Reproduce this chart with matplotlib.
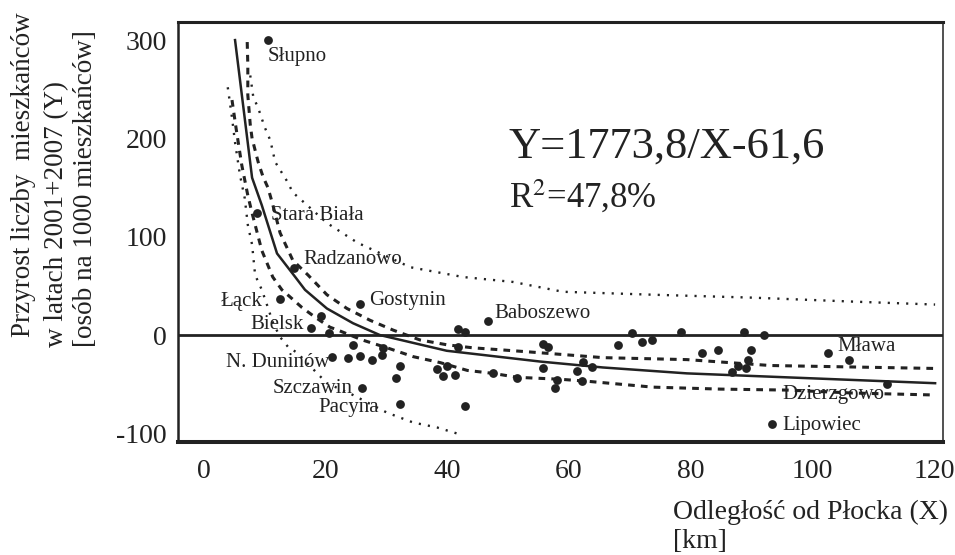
import matplotlib
matplotlib.use("Agg")
import matplotlib.pyplot as plt

plt.rcParams['font.family'] = ['Liberation Serif', 'DejaVu Serif']
plt.rcParams['mathtext.fontset'] = 'stix'
plt.rcParams['axes.unicode_minus'] = False

# miejscowosci: odleglosc od Plocka (km) i przyrost (os./1000)
dist_km = [10.5, 8.7, 14.8, 12.5, 19.2, 17.6, 20.6, 25.7, 24.5, 29.4,
           21.1, 23.7, 25.7, 27.6, 29.3, 32.2, 31.6, 26.0, 32.2, 42.9,
           41.8, 42.9, 46.7, 41.8, 38.3, 39.3, 40.0, 41.3, 47.5, 51.5,
           55.8, 56.6, 55.8, 58.1, 57.7, 62.2, 62.3, 61.3, 63.8, 68.1,
           70.4, 72.0, 73.7, 78.5, 81.9, 84.5, 88.7, 92.0, 90.0, 89.5,
           87.8, 89.1, 86.8, 93.4, 102.6, 106.1, 112.3]
growth = [300, 124, 68, 37, 19, 7, 2, 32, -10, -13,
          -22, -23, -21, -25, -20, -31, -44, -54, -70, -72,
          6, 3, 14, -12, -35, -42, -31, -41, -39, -44,
          -9, -12, -34, -46, -54, -47, -27, -37, -33, -10,
          2, -7, -5, 3, -18, -15, 3, 0, -15, -25,
          -32, -34, -38, -90, -18, -25, -50]

# krzywa dopasowania
fit_x = [5.1, 7.9, 9.5, 12.0, 15.0, 16.6, 20.2, 24.5, 28.9, 34.4, 39.9, 55.3, 65.6, 79.4, 120.2]
fit_y = [300, 160, 132, 83, 59, 46, 27, 12, 0, -8, -16, -27, -33, -39, -49]

# przedzial ufnosci (kreskowane)
conf_up_x = [7.1, 7.2, 7.2, 7.6, 7.9, 8.9, 9.7, 10.5, 11.2, 12.5, 14.6, 17.1, 20.2,
             23.5, 27.3, 31.1, 35.5, 40.0, 44.2, 48.7, 53.1, 65.6, 79.4, 93.1, 120.2]
conf_up_y = [298, 275, 244, 214, 200, 176, 161, 150, 135, 104, 76, 61, 41,
             27, 15, 5, -5, -10, -13, -15, -17, -23, -25, -31, -34]
conf_lo_x = [4.6, 5.3, 6.2, 7.2, 7.9, 9.5, 11.3, 12.8, 14.1, 16.1, 18.3, 20.7, 22.0, 26.0,
             30.1, 34.4, 38.8, 43.3, 47.5, 51.5, 58.6, 63.0, 73.8, 84.9, 95.9, 106.7, 120.2]
conf_lo_y = [239, 209, 173, 142, 124, 86, 59, 46, 39, 28, 18, 8, 5, -5,
             -13, -22, -28, -36, -39, -43, -45, -47, -53, -55, -56, -59, -61]

# przedzial prognozy (kropkowane)
pred_up_x = [7.6, 8.1, 8.9, 10.0, 10.9, 11.7, 13.7, 14.6, 16.6, 20.2, 25.2, 33.9, 42.6,
             50.8, 59.0, 73.8, 90.3, 106.7, 120.2]
pred_up_y = [264, 242, 231, 211, 198, 176, 156, 145, 134, 114, 94, 69, 59,
             54, 44, 41, 38, 34, 31]
pred_lo_x = [3.9, 4.6, 5.1, 5.9, 6.7, 7.2, 7.9, 8.4, 9.5, 10.5, 11.3, 12.5, 13.8, 15.3,
             20.2, 24.5, 30.1, 34.4, 38.3, 42.6]
pred_lo_y = [252, 221, 196, 163, 139, 112, 92, 61, 46, 28, 13, -2, -12, -18,
             -49, -61, -79, -89, -94, -102]

names = ['Słupno', 'Stara Biała', 'Radzanowo', 'Łąck', 'Bielsk', 'N. Duninów',
         'Szczawin', 'Pacyna', 'Gostynin', 'Baboszewo', 'Mława', 'Dzierzgowo', 'Lipowiec']
name_x = [10.5, 11.0, 16.4, 2.8, 7.7, 3.6, 11.3, 18.8, 27.1, 47.7, 104.1, 95.1, 95.1]
name_y = [283, 122, 77, 34, 11, -28, -54, -74, 35, 22, -12, -60, -92]

ink = '#222222'

fig = plt.figure(figsize=(9.55, 5.55), dpi=100)
ax = fig.add_axes([178 / 955, 1 - 442 / 555, (943 - 178) / 955, (442 - 21.7) / 555])

ax.axhline(0, color=ink, lw=2.0, zorder=1)
ax.plot(fit_x, fit_y, color=ink, lw=1.8, zorder=3)
ax.plot(conf_up_x, conf_up_y, color=ink, lw=2.2, dashes=(2.2, 2.0), zorder=2)
ax.plot(conf_lo_x, conf_lo_y, color=ink, lw=2.2, dashes=(2.2, 2.0), zorder=2)
ax.plot(pred_up_x, pred_up_y, color=ink, lw=1.7, dashes=(0.9, 3.0), zorder=2)
ax.plot(pred_lo_x, pred_lo_y, color=ink, lw=1.7, dashes=(0.9, 3.0), zorder=2)
ax.scatter(dist_km, growth, s=40, color=ink, zorder=4, linewidths=0)

for n, x, y in zip(names, name_x, name_y):
    ax.text(x, y, n, fontsize=15, ha='left', va='center', color=ink)

ax.text(50.1, 181, 'Y=1773,8/X-61,6', fontsize=32, ha='left', va='baseline', color=ink)
ax.text(50.1, 129, 'R$^{\\mathrm{2}}$=47,8%', fontsize=25, ha='left', va='baseline', color=ink)

ax.set_xlim(-4.28, 121.5)
ax.set_ylim(-108.8, 318.7)
ax.set_xticks([0, 20, 40, 60, 80, 100, 120])
ax.set_yticks([-100, 0, 100, 200, 300])
ax.tick_params(axis='both', length=0, labelsize=20, colors=ink)
ax.tick_params(axis='x', pad=12)
ax.tick_params(axis='y', pad=8)

for side, w in [('top', 2.2), ('bottom', 2.9), ('left', 1.8), ('right', 1.1)]:
    ax.spines[side].set_linewidth(w)
    ax.spines[side].set_color(ink)

# opisy osi
fig.text(673 / 955, 1 - 512 / 555, 'Odległość od Płocka (X)', fontsize=20,
         ha='left', va='center', color=ink)
fig.text(673 / 955, 1 - 542 / 555, '[km]', fontsize=20, ha='left', va='center', color=ink)
fig.text(24 / 955, 1 - 337 / 555, 'Przyrost liczby  mieszkańców', fontsize=19.5,
         rotation=90, ha='center', va='bottom', color=ink)
fig.text(57 / 955, 1 - 347 / 555, 'w latach 2001+2007 (Y)', fontsize=19.5,
         rotation=90, ha='center', va='bottom', color=ink)
fig.text(86 / 955, 1 - 347 / 555, '[osób na 1000 mieszkańców]', fontsize=19.5,
         rotation=90, ha='center', va='bottom', color=ink)

fig.savefig('out.png', dpi=100)
